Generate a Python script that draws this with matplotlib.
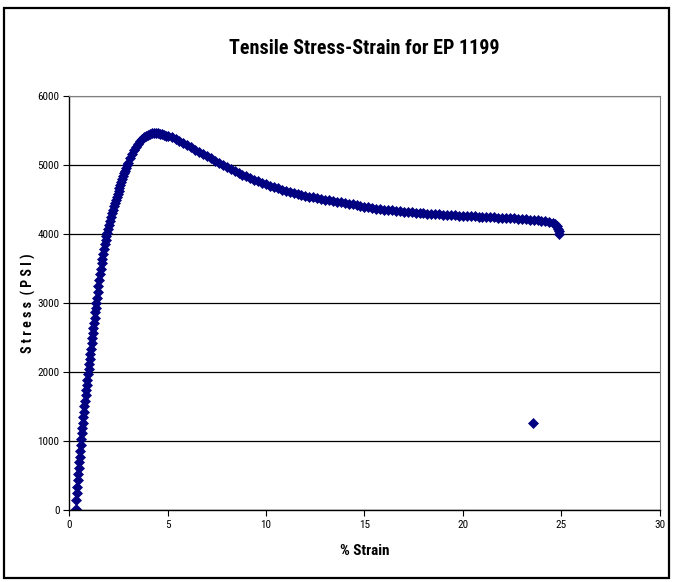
import matplotlib.pyplot as plt
from matplotlib.patches import Rectangle

# strain (%) and stress (psi)
strain = [0.33, 0.33, 0.35, 0.37, 0.39, 0.42, 0.44, 0.47, 0.49, 0.52,
          0.55, 0.57, 0.60, 0.63, 0.65, 0.68, 0.71, 0.74, 0.77, 0.80,
          0.83, 0.86, 0.89, 0.92, 0.95, 0.98, 1.01, 1.04, 1.07, 1.10,
          1.13, 1.16, 1.19, 1.22, 1.25, 1.28, 1.31, 1.34, 1.37, 1.40,
          1.44, 1.48, 1.52, 1.56, 1.60, 1.64, 1.68, 1.72, 1.76, 1.80,
          1.84, 1.88, 1.92, 1.96, 2.00, 2.05, 2.10, 2.15, 2.20, 2.25,
          2.30, 2.35, 2.40, 2.45, 2.50, 2.55, 2.60, 2.65, 2.70, 2.75,
          2.80, 2.85, 2.90, 2.95, 3.00, 3.10, 3.20, 3.30, 3.40, 3.50,
          3.60, 3.70, 3.80, 3.90, 4.00, 4.10, 4.20, 4.30, 4.40, 4.50,
          4.60, 4.70, 4.80, 4.90, 5.00, 5.20, 5.40, 5.60, 5.80, 6.00,
          6.20, 6.40, 6.60, 6.80, 7.00, 7.20, 7.40, 7.60, 7.80, 8.00,
          8.20, 8.40, 8.60, 8.80, 9.00, 9.20, 9.40, 9.60, 9.80, 10.00,
          10.20, 10.40, 10.60, 10.80, 11.00, 11.20, 11.40, 11.60, 11.80, 12.00,
          12.20, 12.40, 12.60, 12.80, 13.00, 13.20, 13.40, 13.60, 13.80, 14.00,
          14.20, 14.40, 14.60, 14.80, 15.00, 15.20, 15.40, 15.60, 15.80, 16.00,
          16.20, 16.40, 16.60, 16.80, 17.00, 17.20, 17.40, 17.60, 17.80, 18.00,
          18.20, 18.40, 18.60, 18.80, 19.00, 19.20, 19.40, 19.60, 19.80, 20.00,
          20.20, 20.40, 20.60, 20.80, 21.00, 21.20, 21.40, 21.60, 21.80, 22.00,
          22.20, 22.40, 22.60, 22.80, 23.00, 23.20, 23.40, 23.60, 23.80, 24.00,
          24.20, 24.40, 24.60, 24.70, 24.80, 24.85, 24.87, 24.88, 23.59]
stress = [0, 20, 150, 240, 330, 435, 520, 605, 690, 775,
          860, 940, 1025, 1110, 1185, 1265, 1345, 1425, 1505, 1580,
          1660, 1740, 1815, 1890, 1965, 2040, 2115, 2190, 2265, 2340,
          2415, 2490, 2565, 2640, 2715, 2790, 2865, 2935, 3005, 3070,
          3160, 3250, 3335, 3420, 3500, 3575, 3645, 3715, 3785, 3850,
          3910, 3965, 4020, 4075, 4125, 4185, 4245, 4300, 4350, 4400,
          4445, 4490, 4535, 4580, 4625, 4670, 4715, 4760, 4800, 4840,
          4880, 4920, 4960, 5000, 5035, 5100, 5160, 5215, 5265, 5310,
          5350, 5380, 5405, 5425, 5440, 5450, 5457, 5460, 5460, 5458,
          5453, 5446, 5437, 5427, 5420, 5400, 5375, 5345, 5315, 5285,
          5255, 5225, 5193, 5160, 5128, 5096, 5064, 5033, 5004, 4977,
          4948, 4919, 4890, 4862, 4838, 4814, 4790, 4766, 4742, 4718,
          4698, 4680, 4662, 4645, 4628, 4612, 4596, 4582, 4568, 4555,
          4543, 4531, 4519, 4508, 4497, 4487, 4477, 4467, 4457, 4448,
          4439, 4430, 4421, 4412, 4395, 4385, 4376, 4368, 4360, 4353,
          4347, 4341, 4335, 4330, 4325, 4320, 4315, 4311, 4306, 4302,
          4297, 4293, 4288, 4284, 4279, 4275, 4272, 4269, 4266, 4263,
          4260, 4257, 4254, 4252, 4249, 4247, 4244, 4242, 4239, 4236,
          4233, 4230, 4227, 4223, 4219, 4215, 4210, 4205, 4199, 4192,
          4184, 4173, 4158, 4145, 4120, 4080, 4040, 4000, 1265]

xticks = [0, 5, 10, 15, 20, 25, 30]
yticks = [0, 1000, 2000, 3000, 4000, 5000, 6000]

plt.rcParams['font.family'] = ['Roboto Condensed', 'Archivo Narrow', 'Liberation Sans', 'DejaVu Sans']

fig = plt.figure(figsize=(6.73, 5.82), dpi=100)
ax = fig.add_axes([0.103, 0.1237, 0.877, 0.7113])

# outer chart frame
fig.patches.append(Rectangle((0.006, 0.007), 0.988, 0.98, transform=fig.transFigure,
                             fill=False, edgecolor='black', linewidth=1.6))

ax.plot(strain, stress, linestyle='none', marker='D', markersize=4.6,
        color='#000080', markeredgewidth=0.5)

ax.set_xlim(0, 30)
ax.set_ylim(0, 6000)
ax.set_xticks(xticks)
ax.set_yticks(yticks)
ax.tick_params(labelsize=8, direction='out', length=4, width=0.8, pad=3)
ax.yaxis.grid(True, color='black', linewidth=0.9)
ax.set_axisbelow(True)

for side in ['left', 'bottom']:
    ax.spines[side].set_color('black')
    ax.spines[side].set_linewidth(1.0)
ax.spines['right'].set_color('#808080')
ax.spines['top'].set_color('#808080')

ax.set_title('Tensile Stress-Strain for EP 1199', fontsize=14.5, fontweight='bold', pad=30)
ax.set_xlabel('% Strain', fontsize=11, fontweight='bold', labelpad=10)
ax.set_ylabel('S t r e s s  ( P S I )', fontsize=10, fontweight='bold')
ax.yaxis.set_label_coords(-0.056, 0.5)

fig.savefig('out.png', dpi=100)
